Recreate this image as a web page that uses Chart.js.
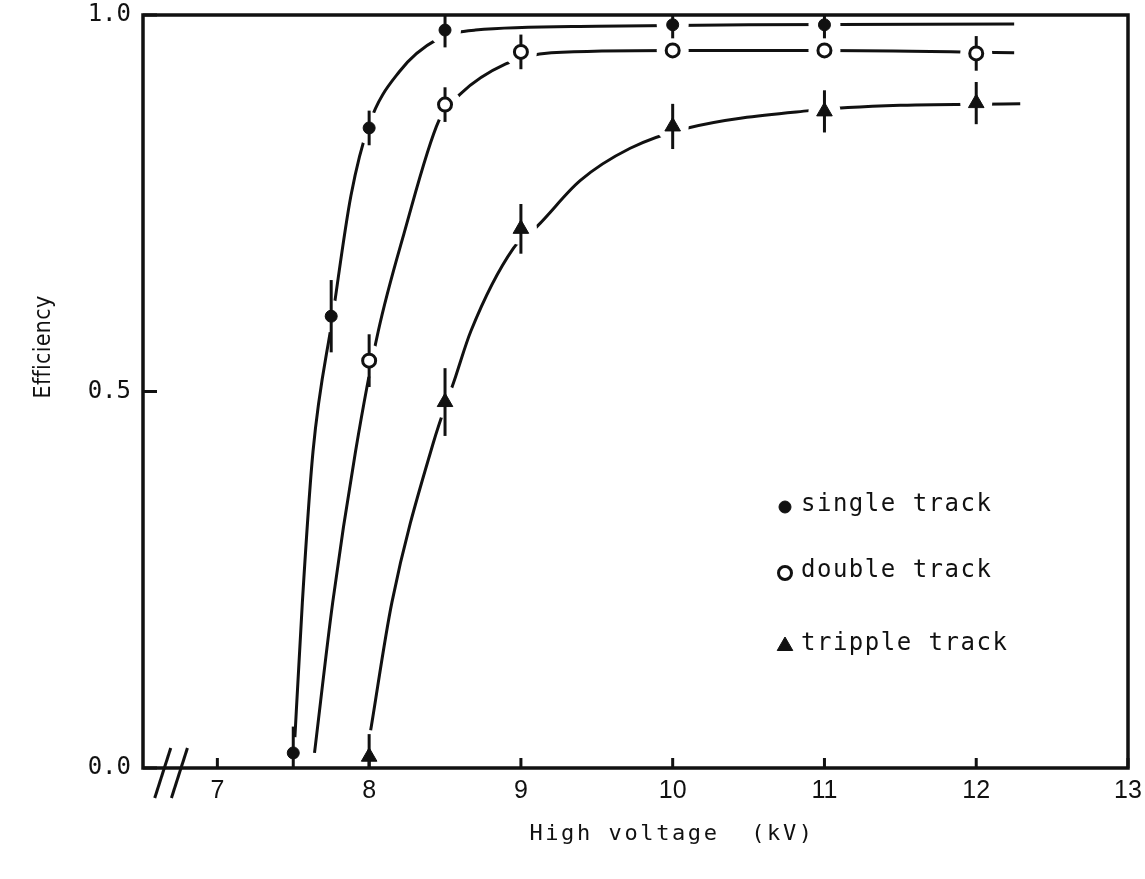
<!DOCTYPE html>
<html>
<head>
<meta charset="utf-8">
<script src="https://cdn.jsdelivr.net/npm/chart.js@4.4.1/dist/chart.umd.min.js"></script>
<style>
  html, body { margin: 0; padding: 0; background: #fff; }
  canvas { display: block; }
</style>
</head>
<body>
<canvas id="effChart" width="1145" height="879"></canvas>
<script>
// Measured points: high voltage (kV) vs efficiency, with error bar half-lengths
const singleHV = [7.5, 7.75, 8.0, 8.5, 10.0, 11.0];
const singleEff = [0.02, 0.6, 0.85, 0.98, 0.987, 0.987];
const singleErr = [0.035, 0.048, 0.023, 0.023, 0.018, 0.018];

const doubleHV = [8.0, 8.5, 9.0, 10.0, 11.0, 12.0];
const doubleEff = [0.541, 0.881, 0.951, 0.953, 0.953, 0.949];
const doubleErr = [0.035, 0.023, 0.023, 0, 0, 0.023];

const tripleHV = [8.0, 8.5, 9.0, 10.0, 11.0, 12.0];
const tripleEff = [0.015, 0.486, 0.716, 0.852, 0.872, 0.883];
const tripleErr = [0.03, 0.045, 0.033, 0.03, 0.028, 0.028];

// Hand drawn curves through the points
const singleCurveHV = [7.5, 7.56, 7.63, 7.76, 7.88, 8.0, 8.2, 8.45, 8.7, 9.5, 10.5, 12.25];
const singleCurveEff = [0.0, 0.22, 0.42, 0.6, 0.76, 0.855, 0.925, 0.968, 0.98, 0.985, 0.987, 0.988];

const doubleCurveHV = [7.64, 7.76, 7.91, 8.06, 8.23, 8.46, 8.6, 8.9, 9.2, 10.0, 11.0, 12.25];
const doubleCurveEff = [0.02, 0.22, 0.42, 0.58, 0.71, 0.86, 0.895, 0.935, 0.95, 0.953, 0.953, 0.95];

const tripleCurveHV = [8.01, 8.15, 8.42, 8.57, 8.67, 8.95, 9.11, 9.39, 9.72, 10.1, 10.9, 11.5, 12.29];
const tripleCurveEff = [0.05, 0.22, 0.43, 0.52, 0.58, 0.69, 0.72, 0.78, 0.823, 0.85, 0.873, 0.88, 0.882];

const xTicks = [7, 8, 9, 10, 11, 12, 13];
const yTicks = [0.0, 0.5, 1.0];
const breakMarks = [6.64, 6.75];
const xTitle = 'High voltage  (kV)';
const yTitle = 'Efficiency';

const INK = '#111';
const toPts = (xs, ys) => xs.map((v, i) => ({ x: v, y: ys[i] }));

// halos, error bars, frame, inward ticks, axis break, legend, titles
const decorations = {
    id: 'decorations',
    beforeDatasetDraw(chart, args) {
        const ds = chart.data.datasets[args.index];
        if (!ds.errors) return;
        const ctx = chart.ctx;
        const y = chart.scales.y;
        ctx.save();
        ctx.fillStyle = '#fff';
        args.meta.data.forEach(pt => {
            ctx.beginPath();
            ctx.arc(pt.x, pt.y, 16, 0, Math.PI * 2);
            ctx.fill();
        });
        ctx.strokeStyle = INK;
        ctx.lineWidth = 3;
        ds.data.forEach((d, i) => {
            const e = ds.errors[i];
            if (!e) return;
            const px = args.meta.data[i].x;
            ctx.beginPath();
            ctx.moveTo(px, y.getPixelForValue(Math.min(1, d.y + e)));
            ctx.lineTo(px, y.getPixelForValue(Math.max(0, d.y - e)));
            ctx.stroke();
        });
        ctx.restore();
    },
    afterDatasetsDraw(chart) {
        const { ctx, chartArea: a, scales: { x, y } } = chart;
        ctx.save();
        ctx.strokeStyle = INK;
        ctx.lineWidth = 3.5;
        ctx.strokeRect(a.left, a.top, a.right - a.left, a.bottom - a.top);

        ctx.lineWidth = 3;
        xTicks.forEach(v => {
            const px = x.getPixelForValue(v);
            ctx.beginPath();
            ctx.moveTo(px, a.bottom);
            ctx.lineTo(px, a.bottom - 10);
            ctx.stroke();
        });
        yTicks.forEach(v => {
            const py = y.getPixelForValue(v);
            ctx.beginPath();
            ctx.moveTo(a.left, py);
            ctx.lineTo(a.left + 14, py);
            ctx.stroke();
        });

        // axis break
        breakMarks.forEach(v => {
            const px = x.getPixelForValue(v);
            ctx.beginPath();
            ctx.moveTo(px - 8, a.bottom + 30);
            ctx.lineTo(px + 8, a.bottom - 20);
            ctx.stroke();
        });

        // legend
        const rows = [505, 571, 644];
        ctx.font = '24px "DejaVu Sans Mono"';
        ctx.letterSpacing = '1.5px';
        ctx.textBaseline = 'middle';
        ctx.textAlign = 'left';
        chart.data.datasets.forEach((ds, i) => {
            if (!ds.errors) return;
            ctx.fillStyle = ds.pointBackgroundColor;
            ctx.strokeStyle = ds.pointBorderColor;
            ctx.lineWidth = ds.pointBorderWidth;
            Chart.helpers.drawPoint(ctx, {
                pointStyle: ds.pointStyle,
                radius: ds.pointRadius,
                borderWidth: ds.pointBorderWidth,
                rotation: 0
            }, 785, rows[i] + 2);
            ctx.fillStyle = INK;
            ctx.fillText(ds.label, 801, rows[i]);
        });

        // axis titles
        ctx.fillStyle = INK;
        ctx.font = '22px "DejaVu Sans Mono"';
        ctx.letterSpacing = '2.6px';
        ctx.textAlign = 'center';
        ctx.textBaseline = 'alphabetic';
        ctx.fillText(xTitle, 672, 840);
        ctx.translate(50, 347);
        ctx.rotate(-Math.PI / 2);
        ctx.font = '23px "DejaVu Sans Condensed", "DejaVu Sans"';
        ctx.letterSpacing = '0.3px';
        ctx.fillText(yTitle, 0, 0);
        ctx.restore();
    }
};

const chart = new Chart(document.getElementById('effChart').getContext('2d'), {
    type: 'scatter',
    data: {
        datasets: [{
            label: 'single track',
            data: toPts(singleHV, singleEff),
            errors: singleErr,
            pointStyle: 'circle',
            pointRadius: 6,
            pointBackgroundColor: INK,
            pointBorderColor: INK,
            pointBorderWidth: 1,
            clip: false
        }, {
            label: 'double track',
            data: toPts(doubleHV, doubleEff),
            errors: doubleErr,
            pointStyle: 'circle',
            pointRadius: 6.5,
            pointBackgroundColor: '#fff',
            pointBorderColor: INK,
            pointBorderWidth: 3,
            clip: false
        }, {
            label: 'tripple track',
            data: toPts(tripleHV, tripleEff),
            errors: tripleErr,
            pointStyle: 'triangle',
            pointRadius: 9,
            pointBackgroundColor: INK,
            pointBorderColor: INK,
            pointBorderWidth: 1,
            clip: false
        }, {
            label: 'single curve',
            data: toPts(singleCurveHV, singleCurveEff),
            showLine: true,
            borderColor: INK,
            borderWidth: 3,
            pointRadius: 0,
            cubicInterpolationMode: 'monotone',
            clip: false
        }, {
            label: 'double curve',
            data: toPts(doubleCurveHV, doubleCurveEff),
            showLine: true,
            borderColor: INK,
            borderWidth: 3,
            pointRadius: 0,
            cubicInterpolationMode: 'monotone',
            clip: false
        }, {
            label: 'tripple curve',
            data: toPts(tripleCurveHV, tripleCurveEff),
            showLine: true,
            borderColor: INK,
            borderWidth: 3,
            pointRadius: 0,
            cubicInterpolationMode: 'monotone',
            clip: false
        }]
    },
    options: {
        responsive: false,
        animation: false,
        layout: {
            padding: { top: 15, right: 17, left: 0, bottom: 0 }
        },
        scales: {
            x: {
                type: 'linear',
                min: 6.51,
                max: 13,
                afterBuildTicks: s => { s.ticks = xTicks.map(v => ({ value: v })); },
                afterFit: s => { s.height = 111; s.paddingLeft = 0; s.paddingRight = 0; },
                grid: { display: false, drawTicks: false },
                border: { display: false },
                ticks: {
                    color: INK,
                    padding: 8,
                    maxRotation: 0,
                    font: { family: '"Liberation Sans", Arial', size: 25 }
                }
            },
            y: {
                min: 0,
                max: 1,
                afterBuildTicks: s => { s.ticks = yTicks.map(v => ({ value: v })); },
                afterFit: s => { s.width = 143; s.paddingTop = 0; s.paddingBottom = 0; },
                grid: { display: false, drawTicks: false },
                border: { display: false },
                ticks: {
                    color: INK,
                    padding: 12,
                    callback: v => v.toFixed(1),
                    font: { family: '"DejaVu Sans Mono", monospace', size: 24 }
                }
            }
        },
        plugins: {
            legend: { display: false },
            tooltip: { enabled: false }
        }
    },
    plugins: [decorations]
});
</script>
</body>
</html>
